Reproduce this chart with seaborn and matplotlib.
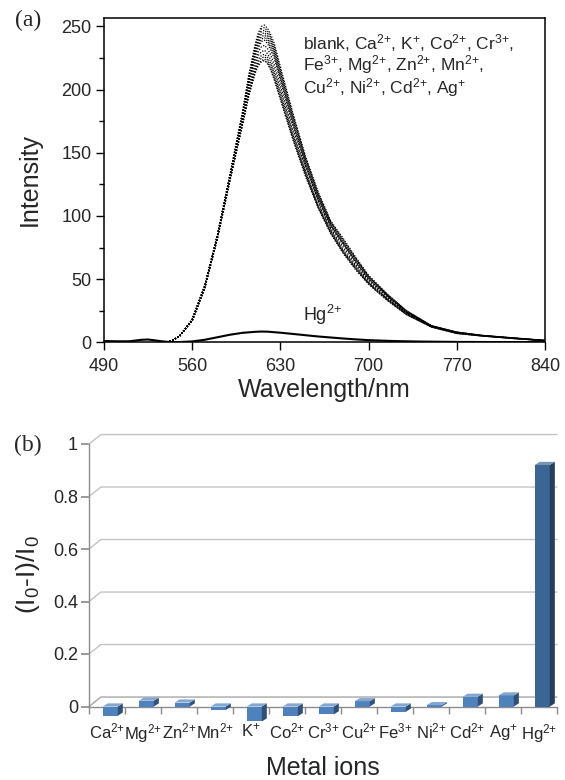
import numpy as np
import matplotlib
matplotlib.use("Agg")
import matplotlib.pyplot as plt
import seaborn as sns
from matplotlib.patches import Polygon
from matplotlib.ticker import MultipleLocator
import matplotlib.colors as mcolors

# ---------------- data: panel (a) fluorescence spectra ----------------
wavelength = [540, 545, 550, 560, 570, 580, 590, 600, 605, 610, 612.5, 615, 617.5, 620, 622.5, 625, 630,
              640, 650, 660, 670, 680, 690, 700, 715, 730, 750, 770, 790, 815, 840]

blank = [0, 2, 5, 18, 45, 85, 133, 183, 212, 236, 245, 250, 251, 248, 243, 237, 218, 181, 147, 119, 96, 82, 67, 53, 38, 25, 13, 8, 5.5, 3.5, 1.5]
ca = [0, 2, 5, 18, 45, 85, 133, 182, 211, 234, 243, 248, 249, 246, 241, 235, 216, 180, 146, 118, 95, 81, 66, 52, 38, 25, 13, 8, 5.5, 3.5, 1.5]
k = [0, 2, 5, 18, 45, 85, 132, 181, 210, 233, 241, 246, 247, 244, 239, 233, 214, 178, 145, 117, 95, 80, 66, 52, 37, 25, 13, 8, 5.4, 3.4, 1.5]
co = [0, 2, 5, 18, 45, 84, 132, 181, 208, 231, 239, 244, 245, 242, 237, 231, 213, 177, 144, 116, 94, 79, 65, 52, 37, 24, 13, 8, 5.4, 3.4, 1.4]
cr = [0, 2, 5, 18, 44, 84, 132, 180, 207, 229, 237, 242, 243, 240, 235, 229, 210, 175, 142, 115, 93, 78, 64, 51, 37, 24, 13, 8, 5.3, 3.3, 1.4]
fe = [0, 2, 5, 18, 44, 84, 131, 179, 206, 228, 235, 240, 241, 238, 233, 227, 209, 173, 141, 114, 92, 78, 63, 50, 36, 24, 13, 8, 5.3, 3.3, 1.4]
mg = [0, 2, 5, 18, 44, 84, 131, 178, 205, 226, 233, 238, 239, 236, 231, 225, 207, 172, 140, 113, 92, 77, 63, 50, 36, 24, 12.6, 7.6, 5.3, 3.3, 1.4]
zn = [0, 2, 5, 17, 44, 83, 130, 177, 202, 223, 230, 234, 235, 232, 227, 220, 203, 169, 138, 112, 90, 75, 61, 49, 35, 23, 12.4, 7.4, 5.2, 3.2, 1.3]
mn = [0, 2, 5, 17, 44, 83, 129, 175, 200, 220, 227, 230, 231, 228, 223, 216, 200, 166, 136, 110, 89, 73, 60, 48, 34, 23, 12.3, 7.3, 5.1, 3.1, 1.3]
cu = [0, 2, 5, 17, 43, 83, 129, 174, 198, 217, 224, 227, 228, 225, 220, 213, 197, 164, 134, 108, 88, 72, 59, 47, 34, 23, 12.2, 7.2, 5.1, 3.1, 1.3]
ni = [0, 2, 5, 17, 43, 82, 129, 173, 197, 216, 222, 225, 226, 223, 218, 211, 195, 162, 133, 107, 87, 71, 58, 47, 34, 22, 12.1, 7.1, 5.0, 3.0, 1.2]
cd = [0, 2, 5, 17, 43, 82, 128, 173, 196, 214, 220, 223, 224, 221, 216, 209, 193, 161, 132, 107, 86, 71, 58, 46, 33, 22, 12, 7, 5.0, 3.0, 1.2]
ag = [0, 1.5, 4.5, 17, 43, 82, 128, 172, 195, 213, 219, 222, 223, 220, 215, 208, 192, 160, 131, 106, 86, 70, 57, 46, 33, 22, 12, 7, 5.0, 3.0, 1.2]
spectra = [blank, ca, k, co, cr, fe, mg, zn, mn, cu, ni, cd, ag]

hg_wavelength = [490, 500, 510, 515, 520, 525, 530, 535, 540, 545, 550, 560, 570, 580, 590, 600,
                 610, 615, 620, 630, 640, 650, 660, 670, 680, 690, 700, 720, 740, 770, 800, 840]
hg_intensity = [1.0, 0.8, 0.8, 1.4, 2.0, 2.2, 1.6, 0.9, 0.4, 0.2, 0.2, 0.7, 2.0, 4.0, 6.0, 7.5,
                8.3, 8.5, 8.4, 7.6, 6.6, 5.6, 4.6, 3.8, 3.0, 2.3, 1.7, 1.0, 0.6, 0.3, 0.2, 0.1]

# ---------------- data: panel (b) selectivity ----------------
ions = ["Ca$^{2{+}}$", "Mg$^{2{+}}$", "Zn$^{2{+}}$", "Mn$^{2{+}}$", "K$^{+}$", "Co$^{2{+}}$", "Cr$^{3{+}}$",
        "Cu$^{2{+}}$", "Fe$^{3{+}}$", "Ni$^{2{+}}$", "Cd$^{2{+}}$", "Ag$^{+}$", "Hg$^{2{+}}$"]
ratio = [-0.035, 0.022, 0.015, -0.013, -0.057, -0.037, -0.030, 0.020, -0.020, 0.005, 0.037, 0.042, 0.92]
y_ticks_b = [0, 0.2, 0.4, 0.6, 0.8, 1.0]
y_ticklabels_b = ["0", "0.2", "0.4", "0.6", "0.8", "1"]

# ---------------- style ----------------
sns.set_theme(style="white")
plt.rcParams["font.family"] = ["Liberation Sans", "DejaVu Sans"]
plt.rcParams["mathtext.fontset"] = "custom"
plt.rcParams["mathtext.rm"] = "Liberation Sans"
plt.rcParams["mathtext.it"] = "Liberation Sans:italic"
plt.rcParams["mathtext.bf"] = "Liberation Sans:bold"
plt.rcParams["mathtext.sf"] = "Liberation Sans"
plt.rcParams["mathtext.default"] = "regular"

W, H = 565, 780
fig = plt.figure(figsize=(W / 100, H / 100), dpi=100)


def rect(l, t, r, b):
    return [l / W, 1 - b / H, (r - l) / W, (b - t) / H]


# ---------------- panel (a) ----------------
ax = fig.add_axes(rect(104, 18, 545, 342.3))
for vals in spectra:
    sns.lineplot(x=wavelength, y=vals, ax=ax, color="black", lw=0.9,
                 linestyle=(0, (1, 1.3)), estimator=None, sort=False)
sns.lineplot(x=hg_wavelength, y=hg_intensity, ax=ax, color="black", lw=1.5,
             estimator=None, sort=False)
ax.set_xlim(490, 840)
ax.set_ylim(0, 256.6)
ax.set_xticks(range(490, 841, 70))
ax.set_yticks(range(0, 251, 50))
ax.yaxis.set_minor_locator(MultipleLocator(25))
ax.tick_params(which="both", direction="out", left=True, bottom=True, color="black")
ax.tick_params(which="major", length=6, width=1, labelsize=13)
ax.tick_params(axis="y", which="major", pad=3)
ax.tick_params(axis="x", which="major", pad=5)
ax.tick_params(which="minor", length=3.5, width=1)
ax.tick_params(axis="x", which="minor", bottom=False)
for s in ax.spines.values():
    s.set_color("black")
    s.set_linewidth(1.1)
ax.set_xlabel("")
ax.set_ylabel("")

ann_x = 0.451
ann_fs = 12.5
ax.text(ann_x, 0.904, "blank, Ca$^{2{+}}$, K$^{+}$, Co$^{2{+}}$, Cr$^{3{+}}$,", transform=ax.transAxes,
        fontsize=ann_fs, va="baseline", ha="left")
ax.text(ann_x, 0.837, "Fe$^{3{+}}$, Mg$^{2{+}}$, Zn$^{2{+}}$, Mn$^{2{+}}$,", transform=ax.transAxes,
        fontsize=ann_fs, va="baseline", ha="left")
ax.text(ann_x, 0.769, "Cu$^{2{+}}$, Ni$^{2{+}}$, Cd$^{2{+}}$, Ag$^{+}$", transform=ax.transAxes,
        fontsize=ann_fs, va="baseline", ha="left")
ax.text(ann_x, 0.066, "Hg$^{2{+}}$", transform=ax.transAxes, fontsize=13, va="baseline", ha="left")

fig.text(30 / W, 1 - 180 / H, "Intensity", rotation=90, ha="center", va="center", fontsize=18)
fig.text(324.5 / W, 1 - 390 / H, "Wavelength/nm", ha="center", va="center", fontsize=18)
fig.text(28 / W, 1 - 20 / H, "(a)", ha="center", va="center", fontsize=17, family="Liberation Serif")

# ---------------- panel (b) ----------------
bx = fig.add_axes(rect(89, 444, 557, 706.5))
front_colors = ["#4F81BD"] * 12 + ["#3A6595"]
sns.barplot(x=ions, y=ratio, hue=ions, palette=front_colors, legend=False, ax=bx,
            width=0.42, saturation=1, edgecolor="none", zorder=3)
bx.set_xlim(-0.5, 12.5)
bx.set_ylim(0, 1)

gx, gy = 0.33, 0.036
for yv in y_ticks_b:
    bx.plot([-0.5, -0.5 + gx, 12.5], [yv, yv + gy, yv + gy],
            color="#A6A6A6" if yv == 0 else "#C4C4C4", lw=1, zorder=1, clip_on=False)

for s in ["top", "right"]:
    bx.spines[s].set_visible(False)
for s in ["left", "bottom"]:
    bx.spines[s].set_color("#8C8C8C")
    bx.spines[s].set_linewidth(1)
    bx.spines[s].set_zorder(2)

bx.set_yticks(y_ticks_b)
bx.set_yticklabels(y_ticklabels_b)
bx.tick_params(axis="y", direction="out", length=6, color="#8C8C8C", labelsize=13, pad=2, left=True)
bx.set_xticks(np.arange(-0.5, 13, 1), minor=True)
bx.tick_params(axis="x", which="major", length=0, pad=11, labelsize=12)
bx.tick_params(axis="x", which="minor", length=5, color="#8C8C8C", direction="out", bottom=True)
bx.set_xlabel("")
bx.set_ylabel("")

dx3, dy3 = 0.14, 0.012
for p in list(bx.patches):
    p.set_x(p.get_x() + 0.09)
    p.set_clip_on(False)
    x0 = p.get_x()
    w = p.get_width()
    y0 = p.get_y()
    h = p.get_height()
    top = max(y0, y0 + h)
    bot = min(y0, y0 + h)
    base = np.array(mcolors.to_rgb(p.get_facecolor()))
    side_c = base * 0.62
    top_c = base + (1 - base) * 0.3
    side = Polygon([[x0 + w, bot], [x0 + w, top], [x0 + w + dx3, top + dy3], [x0 + w + dx3, bot + dy3]],
                   closed=True, facecolor=side_c, edgecolor="none", zorder=3, clip_on=False)
    cap = Polygon([[x0, top], [x0 + w, top], [x0 + w + dx3, top + dy3], [x0 + dx3, top + dy3]],
                  closed=True, facecolor=top_c, edgecolor="none", zorder=3, clip_on=False)
    bx.add_patch(side)
    bx.add_patch(cap)

fig.text(28 / W, 1 - 575 / H, "(I$_0$-I)/I$_0$", rotation=90, ha="center", va="center", fontsize=19)
fig.text(323 / W, 1 - 768 / H, "Metal ions", ha="center", va="center", fontsize=18)
fig.text(28 / W, 1 - 445 / H, "(b)", ha="center", va="center", fontsize=17, family="Liberation Serif")

fig.savefig("out.png", dpi=100)
